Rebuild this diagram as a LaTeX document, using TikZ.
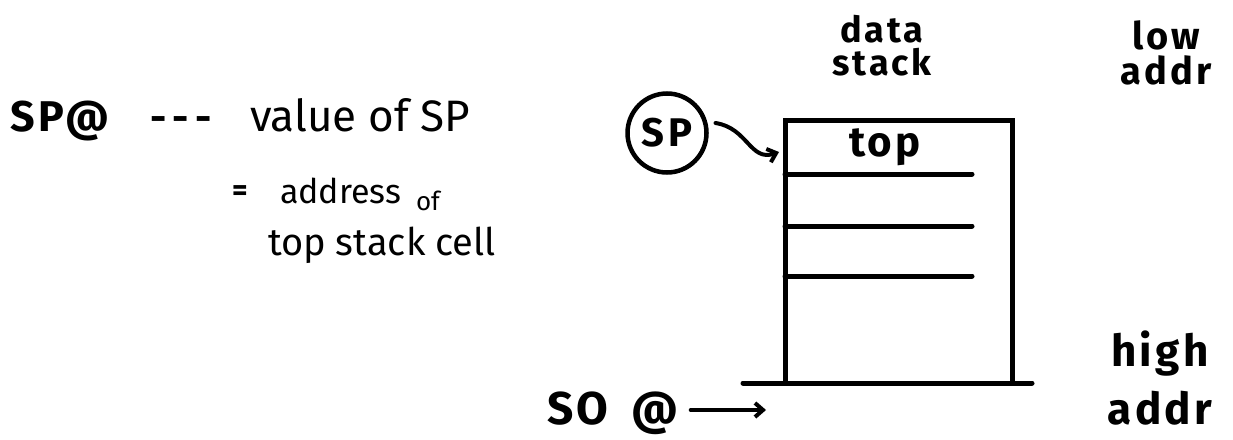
\documentclass[tikz,border=0pt]{standalone}
\usepackage{fontspec}
\setmainfont{Fira Sans}
\usetikzlibrary{arrows.meta, positioning}

\begin{document}
\begin{tikzpicture}[x=1pt, y=-1pt, line width=5pt,
		every node/.style={inner sep=0pt, outer sep=0pt},
		hand/.style={font=\fontsize{#1}{#1}\selectfont},
		bold/.style={font=\fontsize{#1}{#1}\selectfont\bfseries\addfontfeature{LetterSpace=8}},
		barb/.style={-{Straight Barb[length=8pt, width=14pt]}, line width=4pt, line cap=round}]
	\useasboundingbox (0,0) rectangle (1233,439);

	% left hand notes
	\node[bold=43, anchor=base west] (spat) at (10,131) {SP@};
	\node[bold=40, anchor=base west] (dashes) at (150,131) {-\,-\,-};
	\node[hand=44, anchor=base west] (val) at (250,131) {value of SP};
	\node[bold=30, anchor=base west] (eq) at (232,200) {=};
	\node[hand=34, anchor=base west] (addr) at (280,203) {address};
	\node[hand=26, anchor=base west] (ofw) at (416,210) {of};
	\node[hand=38, anchor=base west] (cell) at (268,255) {top stack cell};

	% the stack itself
	\node[draw, anchor=north west, minimum width=227pt, minimum height=263pt] (stack) at (785,120) {};
	\foreach \y in {174,226,276}
		\draw[line cap=round] (785,\y) -- (972,\y);
	\draw[line cap=round] ([xshift=-42pt]stack.south west) -- ([xshift=20pt]stack.south east);
	\node[bold=42] (top) at (885,147) {top};

	\node[bold=36] (data) at (882,29) {data};
	\node[bold=36] (stk) at (882,62) {stack};
	\node[bold=38] (low) at (1166,35) {low};
	\node[bold=38] (laddr) at (1166,70) {addr};
	\node[bold=44] (high) at (1160,354) {high};
	\node[bold=44] (haddr) at (1160,408) {addr};

	% stack pointer
	\node[circle, draw, line width=4.5pt, minimum size=79pt, bold=40] (sp) at (667,133) {SP};
	\coordinate (slot) at (779,152);
	\draw[barb] ([shift={(9pt,10pt)}]sp.east) .. controls (748,128) and (750,162) .. (slot);

	% stack origin
	\node[bold=46, anchor=base west] (so) at (547,424) {SO\enspace@};
	\coordinate (sotip) at (766,410);
	\draw[barb] ([xshift=12pt]so.east |- sotip) -- (sotip);
\end{tikzpicture}
\end{document}
